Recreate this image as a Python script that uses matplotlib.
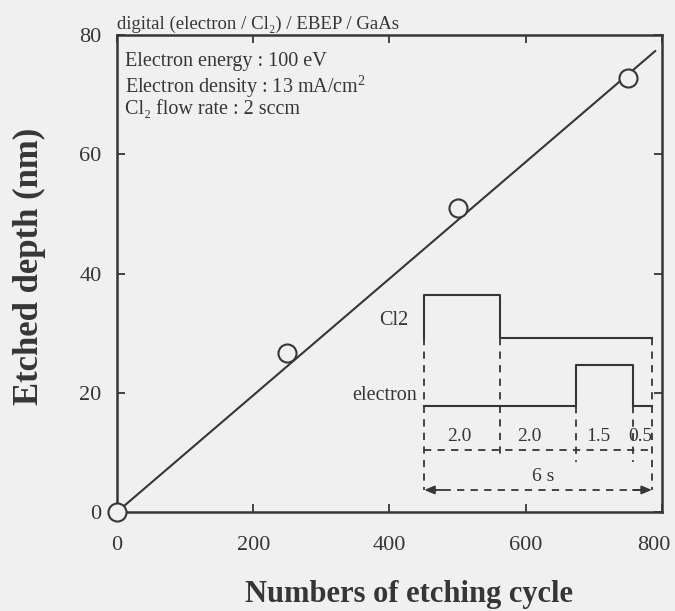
import matplotlib
matplotlib.use('Agg')
import matplotlib.pyplot as plt
import matplotlib.transforms as mtransforms
import numpy as np

plt.rcParams['font.family'] = ['Liberation Serif', 'DejaVu Serif']
plt.rcParams['mathtext.fontset'] = 'custom'
plt.rcParams['mathtext.rm'] = 'Liberation Serif'

# etched depth vs number of cycles
cycles = [0, 250, 500, 750]
depth = [0, 26.7, 51.0, 72.8]
fit_x = [0, 790]
fit_y = [0, 77.3]

# one etching cycle (seconds) and its pulse levels, drawn as inset schematic
durations = [2.0, 2.0, 1.5, 0.5]
cl2_t = [0, 0, 2, 2, 6]
cl2_lvl = [29.2, 36.4, 36.4, 29.2, 29.2]
el_t = [0, 4, 4, 5.5, 5.5, 6]
el_lvl = [17.7, 17.7, 24.6, 24.6, 17.7, 17.7]

t0 = 451      # where the cycle starts on the x axis
sec = 55.7    # x units per second
tx = lambda t: t0 + np.asarray(t) * sec

ink = '#363636'
bg = '#f1f0f1'

fig = plt.figure(figsize=(6.75, 6.11), dpi=100, facecolor=bg)
ax = fig.add_axes([0.1733, 0.162, 0.8074, 0.7807], facecolor=bg)

ax.plot(fit_x, fit_y, color=ink, lw=1.5, zorder=2)
ax.plot(cycles, depth, 'o', ms=13, mfc=bg, mec=ink, mew=1.5, zorder=3, clip_on=False)

# pulse traces
ax.plot(tx(cl2_t), cl2_lvl, color=ink, lw=1.5)
ax.plot(tx(el_t), el_lvl, color=ink, lw=1.5)

bounds = np.concatenate([[0], np.cumsum(durations)])
dash = (0, (4, 3.5))
v_top = [29.2, 29.2, 17.7, 17.7, 29.2]
v_bot = [3.7, 9.4, 8.4, 8.4, 3.7]
for b, yt, yb in zip(bounds, v_top, v_bot):
    ax.plot(tx([b, b]), [yt, yb], color=ink, lw=1.3, ls=dash)
ax.plot(tx([0, bounds[-1]]), [10.4, 10.4], color=ink, lw=1.3, ls=dash)

# total-time arrow
ax.plot(tx([0.15, bounds[-1] - 0.15]), [3.7, 3.7], color=ink, lw=1.3, ls=dash)
for a, b in [(0.5, 0), (bounds[-1] - 0.5, bounds[-1])]:
    ax.annotate('', xy=(tx(b), 3.7), xytext=(tx(a), 3.7),
                arrowprops=dict(arrowstyle='-|>,head_length=0.6,head_width=0.25',
                                color=ink, lw=1.3, shrinkA=0, shrinkB=0))

lbl_pos = [0.92, 2.76, 4.58, 5.69]
for d, p in zip(durations, lbl_pos):
    ax.text(tx(p), 12.6, '%.1f' % d, ha='center', va='center', fontsize=14, color=ink)
ax.text(tx(3.13), 5.9, '%d s' % sum(durations), ha='center', va='center', fontsize=14, color=ink)
ax.text(428, 32.1, 'Cl2', ha='right', va='center', fontsize=14.5, color=ink)
ax.text(440, 19.5, 'electron', ha='right', va='center', fontsize=14.5, color=ink)

# conditions
ax.text(12, 75.5, 'Electron energy : 100 eV', fontsize=14.5, color=ink, va='center')
ax.text(12, 71.4, 'Electron density : 13 mA/cm$^{2}$', fontsize=14.5, color=ink, va='center')
ax.text(12, 67.5, 'Cl\u2082 flow rate : 2 sccm', fontsize=14.5, color=ink, va='center')
ax.text(0, 81.0, 'digital (electron / Cl\u2082) / EBEP / GaAs', fontsize=13.5, color=ink,
        va='baseline', ha='left')

ax.set_xlim(0, 800)
ax.set_ylim(0, 80)
ax.set_xticks([0, 200, 400, 600, 800])
ax.set_yticks([0, 20, 40, 60, 80])
ax.tick_params(direction='in', top=True, right=True, length=6, width=1.3,
               labelsize=16, colors=ink)
ax.tick_params(axis='x', pad=17)
ax.tick_params(axis='y', pad=11)
for s in ax.spines.values():
    s.set_linewidth(1.8)
    s.set_color(ink)

# keep the last x label inside the figure
last = ax.get_xticklabels()[-1]
last.set_transform(last.get_transform() + mtransforms.ScaledTranslation(-8 / 100, 0, fig.dpi_scale_trans))

ax.set_xlabel('Numbers of etching cycle', fontsize=22, fontweight='bold', color=ink)
ax.xaxis.set_label_coords(0.536, -0.143)
ax.set_ylabel('Etched depth (nm)', fontsize=25, fontweight='bold', color=ink)
ax.yaxis.set_label_coords(-0.13, 0.514)

fig.savefig('out.png', dpi=100, facecolor=bg)
